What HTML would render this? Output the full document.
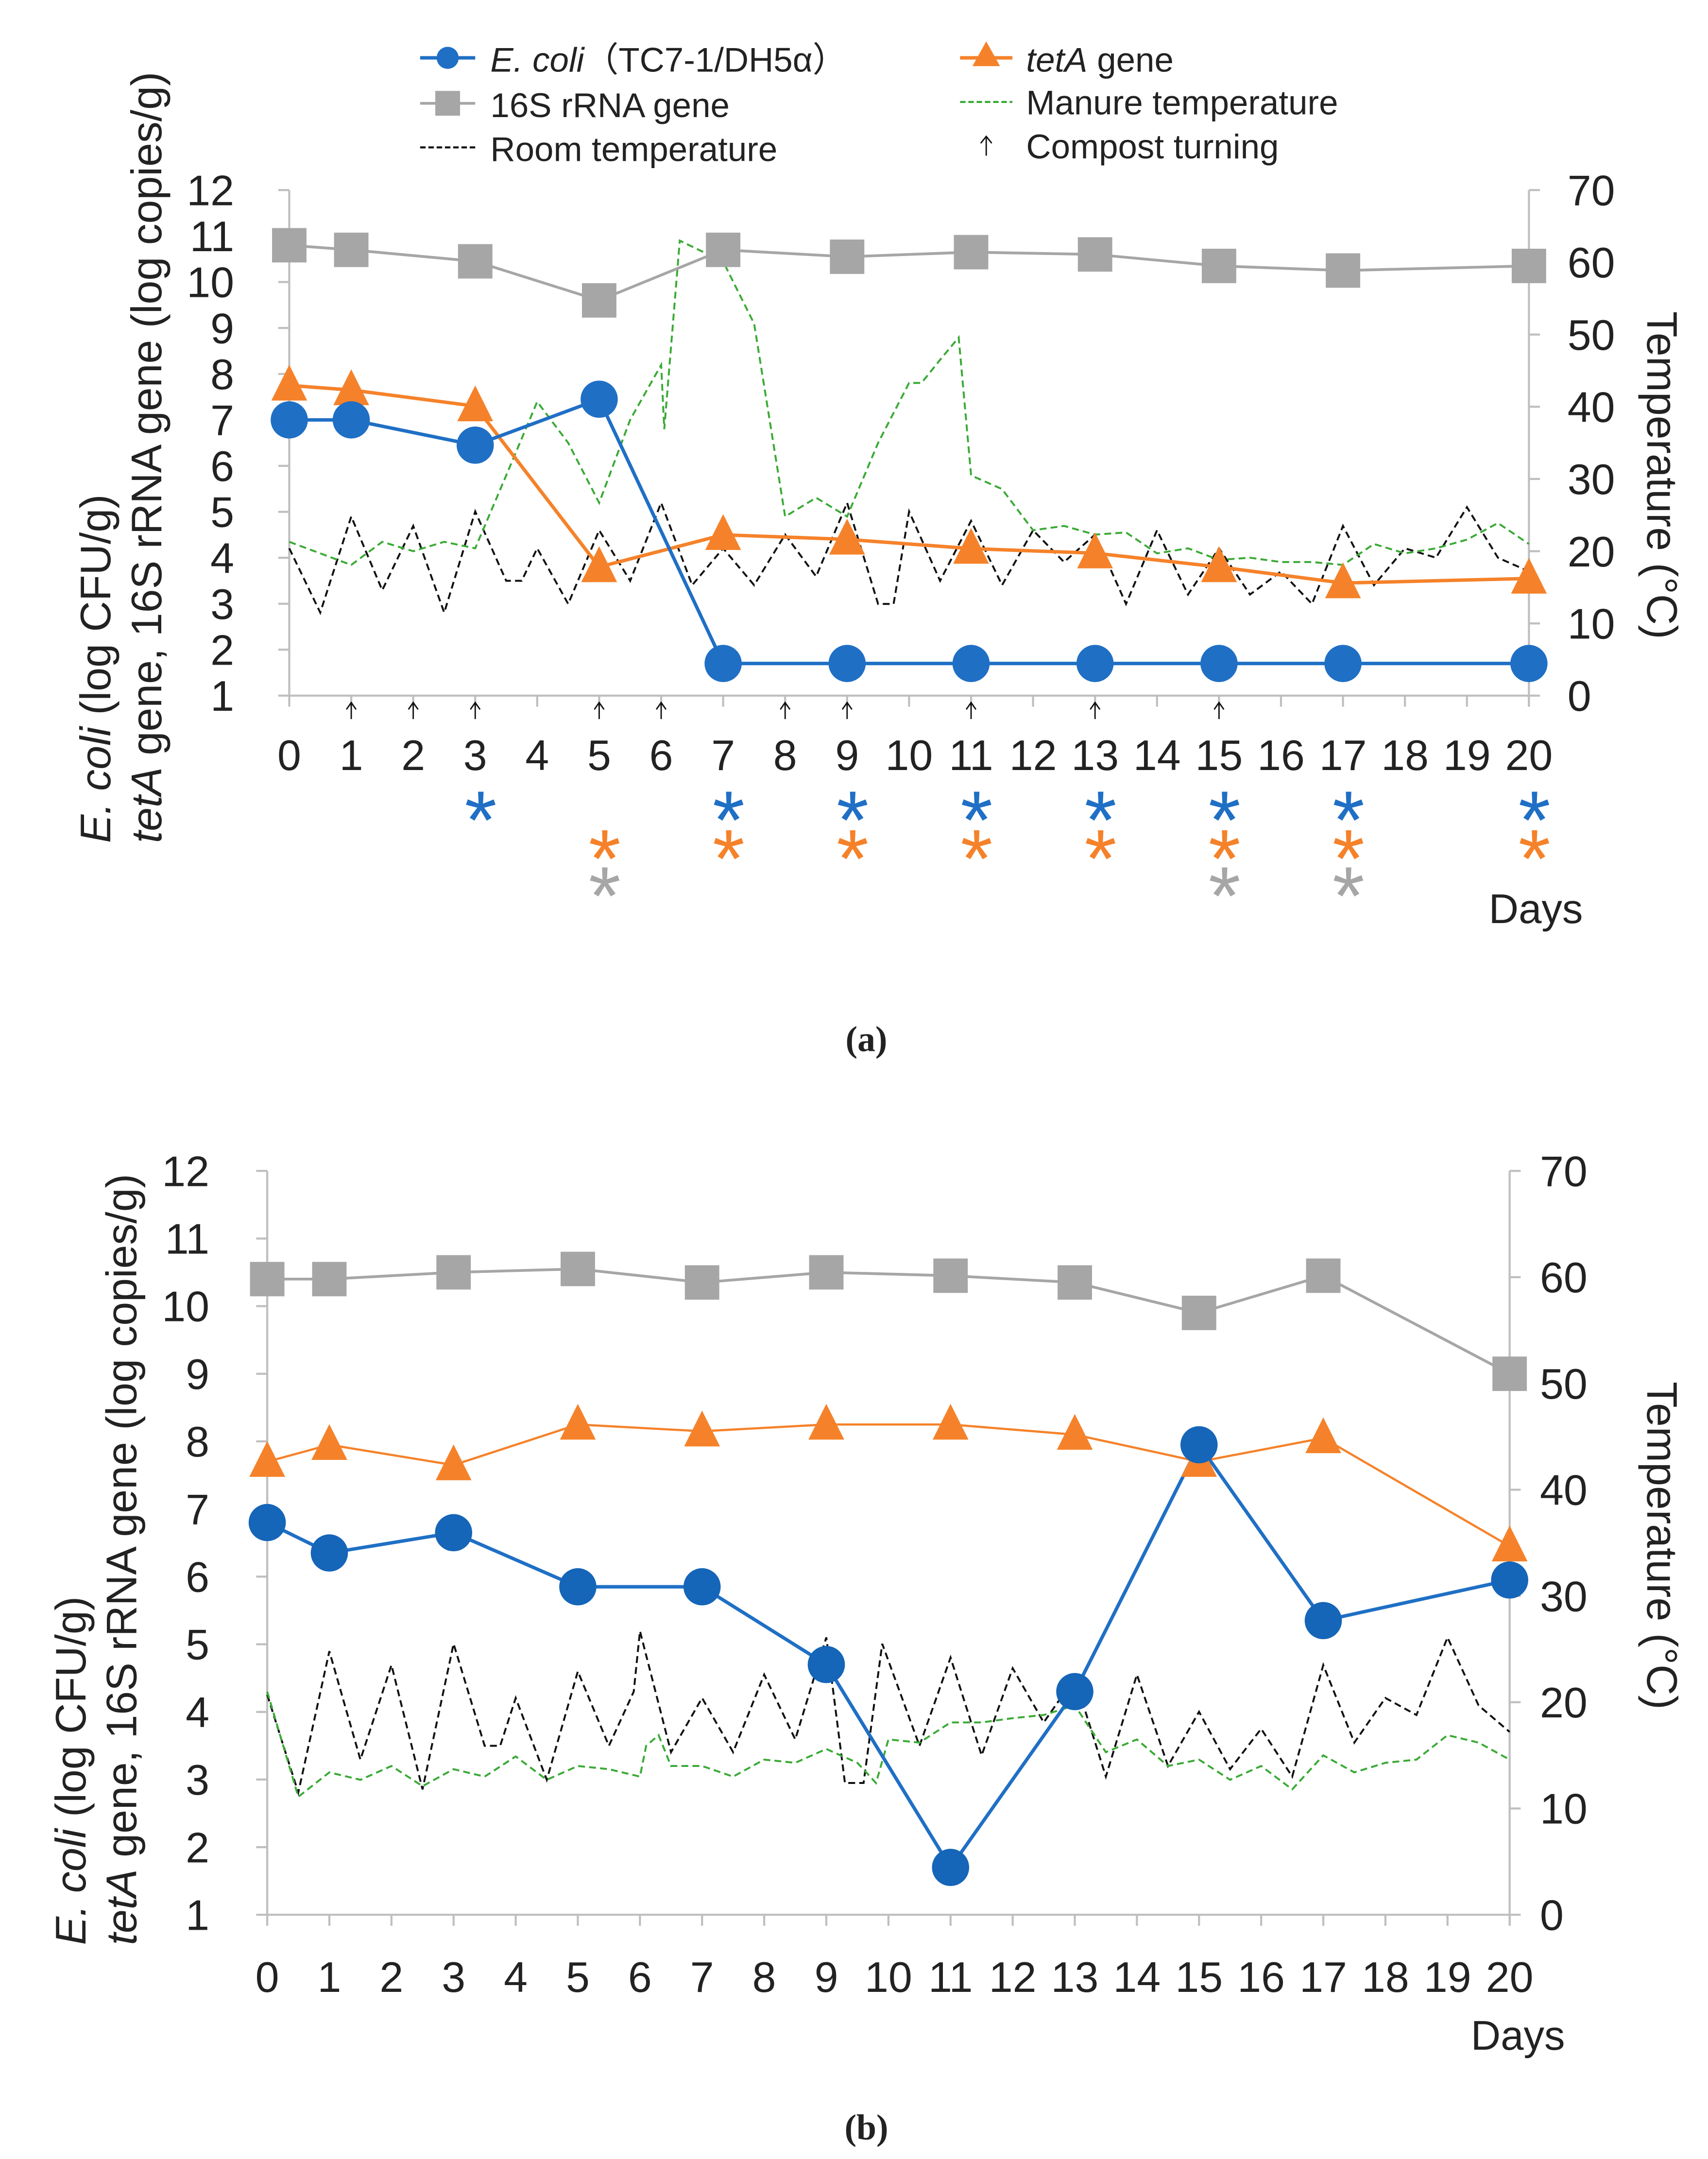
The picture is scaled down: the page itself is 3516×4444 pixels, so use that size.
<!DOCTYPE html>
<html><head><meta charset="utf-8">
<style>
html,body{margin:0;padding:0;background:#fff;}
svg{display:block;}
text{font-family:"Liberation Sans","Noto Sans CJK JP",sans-serif;fill:#222;}
</style></head>
<body>
<svg id="fig" width="3516" height="4444" viewBox="0 0 1240 1567.3" xmlns="http://www.w3.org/2000/svg">
  <g id="legend">
    <g>
      <line x1="305" y1="42" x2="345" y2="42" stroke="#1f6fc5" stroke-width="2.5"/>
      <circle cx="325" cy="42" r="8" fill="#1f6fc5"/>
      <text x="356" y="52" font-size="25"><tspan font-style="italic">E. coli</tspan>（TC7-1/DH5α）</text>
    </g>
    <g>
      <line x1="697" y1="42" x2="735" y2="42" stroke="#f5822a" stroke-width="2.5"/>
      <polygon points="716,30 726,48 706,48" fill="#f5822a"/>
      <text x="745" y="52" font-size="25"><tspan font-style="italic">tetA</tspan> gene</text>
    </g>
    <g>
      <line x1="305" y1="75" x2="345" y2="75" stroke="#a6a6a6" stroke-width="2"/>
      <rect x="316" y="66" width="18" height="18" fill="#a6a6a6"/>
      <text x="356" y="85" font-size="25">16S rRNA gene</text>
    </g>
    <g>
      <line x1="697" y1="74" x2="735" y2="74" stroke="#3aaa35" stroke-width="1.5" stroke-dasharray="4,2"/>
      <text x="745" y="83" font-size="25">Manure temperature</text>
    </g>
    <g>
      <line x1="305" y1="107" x2="345" y2="107" stroke="#111" stroke-width="1.5" stroke-dasharray="4,2"/>
      <text x="356" y="117" font-size="25">Room temperature</text>
    </g>
    <g>
      <line x1="716" y1="99" x2="716" y2="113" stroke="#111" stroke-width="1"/>
      <polyline points="712,104 716,99 720,104" fill="none" stroke="#111" stroke-width="1"/>
      <text x="745" y="115" font-size="25">Compost turning</text>
    </g>
  </g>
</svg>
<script>
// ---------- Panel (a) data ----------
const sampleDaysA = [0,1,3,5,7,9,11,13,15,17,20];
const ecoliA = [7.0,7.0,6.45,7.45,1.7,1.7,1.7,1.7,1.7,1.7,1.7];
const rrnaA = [10.8,10.7,10.45,9.6,10.7,10.55,10.65,10.6,10.35,10.25,10.35];
const tetaA = [7.75,7.65,7.3,3.8,4.5,4.4,4.2,4.1,3.8,3.45,3.55];
const roomDaysA = [0,0.5,1,1.5,2,2.5,3,3.5,3.75,4,4.5,5,5.5,6,6.5,7,7.5,8,8.5,9,9.5,9.75,10,10.5,11,11.5,12,12.5,13,13.5,14,14.5,15,15.5,16,16.5,17,17.5,18,18.5,19,19.5,20];
const roomTempA = [20.4,11.5,24.8,14.6,23.5,11.5,25.5,15.9,15.9,20.4,12.7,22.9,15.9,26.7,15.3,20.4,15.3,22.3,16.5,26.7,12.7,12.7,25.5,15.9,24.2,15.3,22.9,18.5,22.3,12.7,22.9,14.0,20.4,14.0,17.2,12.7,23.5,15.3,20.4,19.1,26.1,19.1,17.2];
const manureDaysA = [0,1,1.5,2,2.5,3,3.5,4,4.5,5,5.5,6,6.05,6.3,7,7.5,8,8.5,9,9.5,10,10.2,10.5,10.8,11,11.5,12,12.5,13,13.5,14,14.5,15,15.5,16,16.5,17,17.5,18,18.5,19,19.5,20];
const manureTempA = [21.3,18.1,21.3,20.0,21.3,20.4,30.5,40.7,35.0,26.7,38.2,45.8,36.9,63.0,60.1,51.5,24.8,27.4,24.8,35.0,43.3,43.3,46.5,49.6,30.5,28.6,22.9,23.5,22.3,22.6,19.7,20.4,18.8,19.1,18.5,18.5,18.1,21.0,19.7,20.4,21.6,23.9,21.0];
const turningDaysA = [1,2,3,5,6,8,9,11,13,15];
const sigEcoliDaysA = [3,7,9,11,13,15,17,20];
const sigTetaDaysA = [5,7,9,11,13,15,17,20];
const sigRrnaDaysA = [5,15,17];
// ---------- Panel (b) data ----------
const sampleDaysB = [0,1,3,5,7,9,11,13,15,17,20];
const ecoliB = [6.8,6.35,6.65,5.85,5.85,4.7,1.7,4.3,7.95,5.35,5.95];
const rrnaB = [10.4,10.4,10.5,10.55,10.35,10.5,10.45,10.35,9.9,10.45,9.0];
const tetaB = [7.7,7.95,7.65,8.25,8.15,8.25,8.25,8.1,7.7,8.05,6.45];
const roomDaysB = [0,0.5,1,1.5,2,2.5,3,3.5,3.75,4,4.5,5,5.5,5.9,6,6.5,7,7.5,8,8.5,9,9.3,9.6,9.9,10.5,11,11.5,12,12.5,13,13.5,14,14.5,15,15.5,16,16.5,17,17.5,18,18.5,19,19.5,20];
const roomTempB = [20.7,11.5,24.8,14.6,23.5,11.8,25.5,15.9,15.9,20.4,12.7,22.9,15.9,21.0,26.7,15.3,20.4,15.3,22.6,16.5,26.1,12.4,12.4,25.5,15.9,24.2,15.0,23.2,18.1,22.3,13.0,22.6,14.0,19.1,13.7,17.5,13.0,23.5,16.2,20.4,18.8,26.1,19.7,17.2];
const manureDaysB = [0,0.5,1,1.5,2,2.5,3,3.5,4,4.5,5,5.5,6,6.1,6.3,6.5,7,7.5,8,8.5,9,9.5,9.8,10,10.5,11,11.5,12,12.5,13,13.5,14,14.5,15,15.5,16,16.5,17,17.5,18,18.5,19,19.5,20];
const manureTempB = [21.0,11.1,13.4,12.7,14.0,12.1,13.7,13.0,14.9,12.7,14.0,13.7,13.0,15.9,16.9,14.0,14.0,13.0,14.6,14.3,15.6,14.3,12.4,16.5,16.2,18.1,18.1,18.5,18.8,19.7,15.3,16.5,14.0,14.6,12.7,14.0,11.8,15.0,13.4,14.3,14.6,16.9,16.2,14.6];
// ---------- Tick labels ----------
const leftTicks = [1,2,3,4,5,6,7,8,9,10,11,12];
const rightTicks = [0,10,20,30,40,50,60,70];
const dayTicks = [0,1,2,3,4,5,6,7,8,9,10,11,12,13,14,15,16,17,18,19,20];

const NS = "http://www.w3.org/2000/svg";
const svg = document.getElementById('fig');
function mk(tag, attrs, parent, txt){
  const e = document.createElementNS(NS, tag);
  for (const k in attrs) e.setAttribute(k, attrs[k]);
  if (txt !== undefined) e.textContent = txt;
  parent.appendChild(e);
  return e;
}

function drawPanel(p){
  const g = mk('g', {}, svg);
  
  
  const xS = d => p.x0 + (p.x1 - p.x0) * d / 20;
  const yL = v => p.yBot - (p.yBot - p.yTop) * (v - 1) / 11;
  const yR = t => p.yBot - (p.yBot - p.yTop) * t / 70;
  const axisCol = '#bfbfbf';
  const la = mk('line', {x1:p.x0, y1:p.yTop, x2:p.x0, y2:p.yBot, stroke:axisCol, 'stroke-width':1.5}, g);
  
  
  const ra = mk('line', {x1:p.x1, y1:p.yTop, x2:p.x1, y2:p.yBot + 8, stroke:axisCol, 'stroke-width':1.5}, g);
  
  
  const xa = mk('line', {x1:p.x0, y1:p.yBot, x2:p.x1, y2:p.yBot, stroke:axisCol, 'stroke-width':1.5}, g);
  
  
  leftTicks.forEach(v => {
    mk('line', {x1:p.x0 - 8, y1:yL(v), x2:p.x0, y2:yL(v), stroke:axisCol, 'stroke-width':1.5}, g);
    const t = mk('text', {x:p.leftLabelX, y:yL(v) + 11, 'font-size':31, 'text-anchor':'end'}, g, String(v));
    
    
  });
  rightTicks.forEach(v => {
    mk('line', {x1:p.x1, y1:yR(v), x2:p.x1 + 8, y2:yR(v), stroke:axisCol, 'stroke-width':1.5}, g);
    const t = mk('text', {x:p.rightLabelX, y:yR(v) + 11, 'font-size':31, 'text-anchor':'start'}, g, String(v));
    
    
  });
  dayTicks.forEach(d => {
    mk('line', {x1:xS(d), y1:p.yBot, x2:xS(d), y2:p.yBot + 8, stroke:axisCol, 'stroke-width':1.5}, g);
    const t = mk('text', {x:xS(d), y:p.dayLabelY, 'font-size':31, 'text-anchor':'middle'}, g, String(d));
    
    
  });
  const rt = mk('text', {x:0, y:0, 'font-size':31, 'text-anchor':'middle', transform:`translate(${p.rtX},${p.rtY}) rotate(90)`}, g, 'Temperature (°C)');
  
  
  const lt1 = mk('text', {x:0, y:0, 'font-size':31, 'text-anchor':'start', transform:`translate(${p.lt1X},${p.ltY}) rotate(-90)`}, g);
  
  
  mk('tspan', {'font-style':'italic'}, lt1, 'E. coli');
  mk('tspan', {}, lt1, ' (log CFU/g)');
  const lt2 = mk('text', {x:0, y:0, 'font-size':31, 'text-anchor':'start', transform:`translate(${p.lt2X},${p.ltY}) rotate(-90)`}, g);
  
  
  mk('tspan', {'font-style':'italic'}, lt2, 'tetA');
  mk('tspan', {}, lt2, ' gene, 16S rRNA gene (log copies/g)');
  const dl = mk('text', {x:p.daysX, y:p.daysY, 'font-size':30, 'text-anchor':'middle'}, g, 'Days');
  
  
  const cap = mk('text', {x:629, y:p.capY, 'font-size':26, 'text-anchor':'middle', 'font-weight':'bold', style:'font-family:"Liberation Serif",serif'}, g, p.caption);
  
  
  const roomPts = p.roomDays.map((d, i) => xS(d) + ',' + yR(p.roomTemp[i])).join(' ');
  const rl = mk('polyline', {points:roomPts, fill:'none', stroke:'#111', 'stroke-width':1.4, 'stroke-dasharray':'5,3'}, g);
  
  
  const manPts = p.manureDays.map((d, i) => xS(d) + ',' + yR(p.manureTemp[i])).join(' ');
  const ml = mk('polyline', {points:manPts, fill:'none', stroke:'#3aaa35', 'stroke-width':1.4, 'stroke-dasharray':'5,3'}, g);
  
  
  const rp = p.days.map((d, i) => xS(d) + ',' + yL(p.rrna[i])).join(' ');
  const rrl = mk('polyline', {points:rp, fill:'none', stroke:'#a6a6a6', 'stroke-width':2}, g);
  
  
  p.days.forEach((d, i) => {
    const s = mk('rect', {x:xS(d) - 12.5, y:yL(p.rrna[i]) - 12.5, width:25, height:25, fill:'#a6a6a6'}, g);
    
    
  });
  const tp = p.days.map((d, i) => xS(d) + ',' + yL(p.teta[i])).join(' ');
  const tl = mk('polyline', {points:tp, fill:'none', stroke:'#f5822a', 'stroke-width':p.tetaW}, g);
  
  
  const ep = p.days.map((d, i) => xS(d) + ',' + yL(p.ecoli[i])).join(' ');
  const el = mk('polyline', {points:ep, fill:'none', stroke:'#1f6fc5', 'stroke-width':2.5}, g);
  
  
  p.days.forEach((d, i) => {
    const x = xS(d), y = yL(p.teta[i]);
    const t = mk('polygon', {points:`${x},${y - 15} ${x + 13},${y + 11} ${x - 13},${y + 11}`, fill:'#f5822a'}, g);
    
    
  });
  p.days.forEach((d, i) => {
    const c = mk('circle', {cx:xS(d), cy:yL(p.ecoli[i]), r:13.5, fill:p.blueFill}, g);
    
    
  });
  (p.turning || []).forEach(d => {
    const x = xS(d);
    const a = mk('g', {}, g);
    
    
    mk('line', {x1:x, y1:p.yBot + 6, x2:x, y2:p.yBot + 17, stroke:'#111', 'stroke-width':1}, a);
    mk('polyline', {points:`${x - 3.5},${p.yBot + 10} ${x},${p.yBot + 5} ${x + 3.5},${p.yBot + 10}`, fill:'none', stroke:'#111', 'stroke-width':1}, a);
  });
  const rows = [[p.sigE, '#1f6fc5', 616, 'sig-ecoli-asterisk'], [p.sigT, '#f5822a', 644, 'sig-teta-asterisk'], [p.sigR, '#a6a6a6', 671, 'sig-rrna-asterisk']];
  rows.forEach(([arr, col, y, nm]) => {
    (arr || []).forEach(d => {
      const s = mk('text', {x:xS(d) + 4, y:y, 'font-size':60, 'text-anchor':'middle', style:'fill:' + col}, g, '*');
      
      
    });
  });
}

drawPanel({id:'a', x0:210, x1:1110, yTop:138, yBot:505, leftLabelX:170, rightLabelX:1138,
  dayLabelY:559, rtX:1196, rtY:345, lt1X:80, lt2X:117, ltY:612, daysX:1115, daysY:670, capY:763, caption:'(a)',
  days:sampleDaysA, ecoli:ecoliA, rrna:rrnaA, teta:tetaA, tetaW:2.5, blueFill:'#1f6fc5',
  roomDays:roomDaysA, roomTemp:roomTempA, manureDays:manureDaysA, manureTemp:manureTempA,
  turning:turningDaysA, sigE:sigEcoliDaysA, sigT:sigTetaDaysA, sigR:sigRrnaDaysA});
drawPanel({id:'b', x0:194, x1:1096, yTop:850, yBot:1390, leftLabelX:152, rightLabelX:1118,
  dayLabelY:1446, rtX:1196, rtY:1122, lt1X:62, lt2X:99, ltY:1412, daysX:1102, daysY:1488, capY:1553, caption:'(b)',
  days:sampleDaysB, ecoli:ecoliB, rrna:rrnaB, teta:tetaB, tetaW:1.6, blueFill:'#1565b8',
  roomDays:roomDaysB, roomTemp:roomTempB, manureDays:manureDaysB, manureTemp:manureTempB,
  turning:[], sigE:[], sigT:[], sigR:[]});
</script>
</body></html>
